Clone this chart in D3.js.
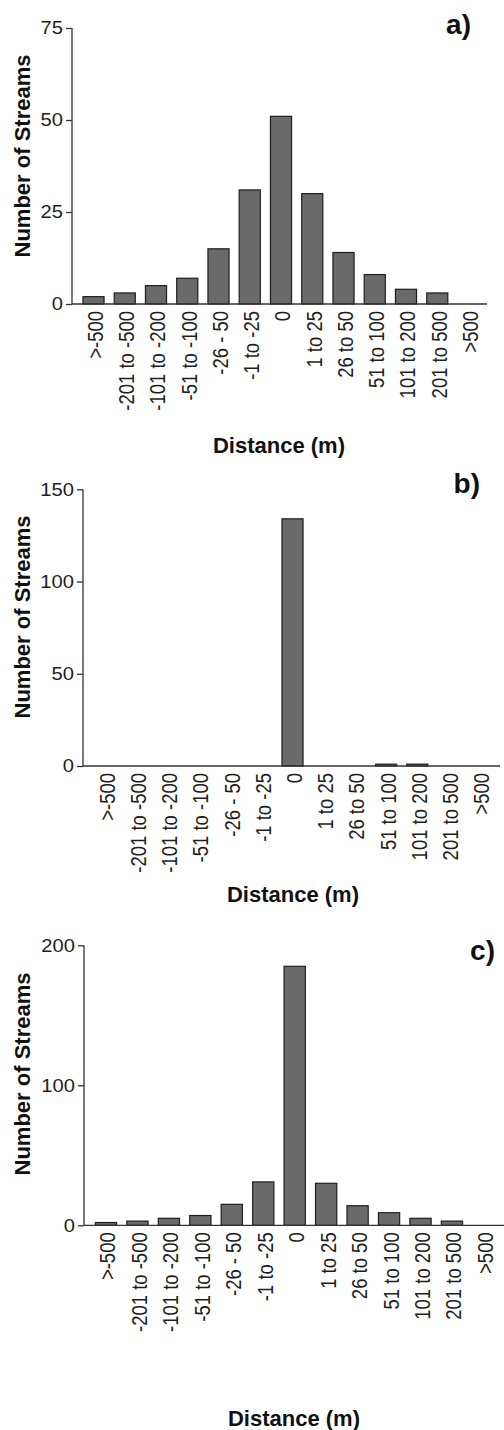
<!DOCTYPE html>
<html>
<head>
<meta charset="utf-8">
<script src="https://cdn.jsdelivr.net/npm/d3@7"></script>
<style>
  html, body { margin: 0; padding: 0; background: #fff; }
  svg { display: block; font-family: "Liberation Sans", Arial, Helvetica, sans-serif; }
  .tick text { fill: #1e1e1e; }
</style>
</head>
<body>
<svg id="chart" width="504" height="1430"></svg>
<script>
// distance classes (m) shared by all three panels
const categories = [">-500", "-201 to -500", "-101 to -200", "-51 to -100", "-26 - 50", "-1 to -25",
                    "0", "1 to 25", "26 to 50", "51 to 100", "101 to 200", "201 to 500", ">500"];

const countsA = [2, 3, 5, 7, 15, 31, 51, 30, 14, 8, 4, 3, 0];
const countsB = [0, 0, 0, 0, 0, 0, 134, 0, 0, 1, 1, 0, 0];
const countsC = [2, 3, 5, 7, 15, 31, 185, 30, 14, 9, 5, 3, 0];

const ticksA = [0, 25, 50, 75];
const ticksB = [0, 50, 100, 150];
const ticksC = [0, 100, 200];

const panelLabels = ["a)", "b)", "c)"];
const xTitle = "Distance (m)";
const yTitle = "Number of Streams";

// layout of each panel on the page
const panels = [
  {counts: countsA, ticks: ticksA, label: panelLabels[0], axisX: 72, y0: 304, yTop: 28,
   first: 93.5, step: 31.25, axisEnd: 487, lab: [471, 34], xt: [279, 453], yt: 156},
  {counts: countsB, ticks: ticksB, label: panelLabels[1], axisX: 83, y0: 766, yTop: 489.3,
   first: 105.3, step: 31.2, axisEnd: 500, lab: [480, 493], xt: [293, 902], yt: 617},
  {counts: countsC, ticks: ticksC, label: panelLabels[2], axisX: 84, y0: 1225.3, yTop: 945.3,
   first: 106, step: 31.45, axisEnd: 504, lab: [495, 960], xt: [294, 1426], yt: 1074}
];

const svg = d3.select("#chart");

panels.forEach(p => {
  const g = svg.append("g");
  const yMax = p.ticks[p.ticks.length - 1];

  const x = d3.scalePoint()
    .domain(categories)
    .range([p.first, p.first + p.step * (categories.length - 1)]);
  const y = d3.scaleLinear()
    .domain([0, yMax])
    .range([p.y0, p.yTop]);
  const barW = p.step * 0.675;

  // bars
  g.selectAll("rect.bar")
    .data(p.counts.map((v, i) => ({cat: categories[i], v})).filter(d => d.v > 0))
    .join("rect")
    .attr("class", "bar")
    .attr("x", d => x(d.cat) - barW / 2)
    .attr("y", d => y(d.v))
    .attr("width", barW)
    .attr("height", d => y(0) - y(d.v))
    .attr("fill", "#6a6a6a")
    .attr("stroke", "#1e1e1e")
    .attr("stroke-width", 1.2);

  // y axis
  const yAxis = g.append("g")
    .attr("transform", "translate(" + p.axisX + ",0)")
    .call(d3.axisLeft(y).tickValues(p.ticks).tickSize(6).tickPadding(3));
  yAxis.select(".domain").remove();
  yAxis.selectAll(".tick line").attr("stroke", "#333").attr("stroke-width", 1.3);
  yAxis.selectAll(".tick text")
    .attr("font-size", 18).attr("font-family", null)
    .attr("x", 0)
    .attr("transform", "translate(-9,0) scale(1.12,1)");

  g.append("line")
    .attr("x1", p.axisX).attr("x2", p.axisX)
    .attr("y1", y(yMax)).attr("y2", y(0))
    .attr("stroke", "#333").attr("stroke-width", 1.3);

  // x baseline
  g.append("line")
    .attr("x1", p.axisX).attr("x2", p.axisEnd)
    .attr("y1", y(0)).attr("y2", y(0))
    .attr("stroke", "#333").attr("stroke-width", 1.3);

  // category labels, rotated
  g.selectAll("text.cat")
    .data(categories)
    .join("text")
    .attr("class", "cat")
    .attr("transform", d => "translate(" + (x(d) + 2) + "," + (p.y0 + 7) + ") rotate(-90) scale(1,1.15)")
    .attr("text-anchor", "end")
    .attr("dominant-baseline", "central")
    .attr("font-size", 18.5)
    .attr("fill", "#1e1e1e")
    .text(d => d);

  // axis titles
  g.append("text")
    .attr("x", p.xt[0]).attr("y", p.xt[1])
    .attr("text-anchor", "middle")
    .attr("font-size", 22).attr("font-weight", "bold")
    .attr("fill", "#111")
    .text(xTitle);

  g.append("text")
    .attr("transform", "translate(22," + p.yt + ") rotate(-90)")
    .attr("text-anchor", "middle")
    .attr("dominant-baseline", "central")
    .attr("font-size", 22).attr("font-weight", "bold")
    .attr("fill", "#111")
    .text(yTitle);

  // panel letter
  g.append("text")
    .attr("x", p.lab[0]).attr("y", p.lab[1])
    .attr("text-anchor", "end")
    .attr("font-size", 28).attr("font-weight", "bold")
    .attr("fill", "#111")
    .text(p.label);
});
</script>
</body>
</html>
